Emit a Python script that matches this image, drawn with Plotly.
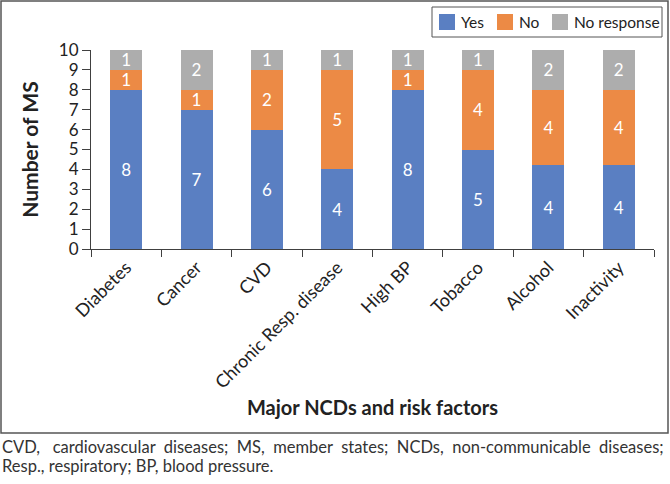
import plotly.graph_objects as go

categories = ["Diabetes", "Cancer", "CVD", "Chronic Resp. disease", "High BP", "Tobacco", "Alcohol", "Inactivity"]
yes_vals = [8, 7, 6, 4, 8, 5, 4.2, 4.2]
no_vals = [1, 1, 3, 5, 1, 4, 3.8, 3.8]
nr_vals = [1, 2, 1, 1, 1, 1, 2, 2]
yes_labels = [8, 7, 6, 4, 8, 5, 4, 4]
no_labels = [1, 1, 2, 5, 1, 4, 4, 4]
nr_labels = [1, 2, 1, 1, 1, 1, 2, 2]
y_ticks = list(range(0, 11))

FONT = "Lato, Carlito, Calibri, 'Open Sans', sans-serif"
W, H = 670, 484
L, R, T, B = 91, 16, 50, 235
pw, ph = W - L - R, H - T - B

def px_x(p):
    return (p - L) / pw

def px_y(p):
    return (H - B - p) / ph

fig = go.Figure()
series = [("Yes", yes_vals, yes_labels, "#5A7FC2"),
          ("No", no_vals, no_labels, "#EC8A45"),
          ("No response", nr_vals, nr_labels, "#ADADAD")]
for name, vals, labs, col in series:
    fig.add_trace(go.Bar(
        name=name, x=categories, y=vals, text=[str(v) for v in labs],
        textposition="inside", insidetextanchor="middle",
        textfont=dict(color="white", size=17, family=FONT),
        marker=dict(color=col, line=dict(width=0)),
        textangle=0, showlegend=False,
    ))

fig.update_layout(
    barmode="stack", bargap=0.545,
    width=W, height=H,
    margin=dict(l=L, r=R, t=T, b=B),
    paper_bgcolor="white", plot_bgcolor="white",
    font=dict(family=FONT, color="#222222", size=16),
    uniformtext=dict(minsize=17, mode="show"),
    xaxis=dict(showline=True, linecolor="#404040", linewidth=1, ticks="outside",
               tickson="boundaries", ticklen=7, tickcolor="#404040", tickangle=-45,
               tickfont=dict(size=18, family=FONT),
               title=dict(text="<b>Major NCDs and risk factors</b>", font=dict(size=20, family=FONT), standoff=9)),
    yaxis=dict(range=[0, 10], tickvals=y_ticks, showline=True, linecolor="#404040", linewidth=1,
               ticks="outside", ticklen=8, tickcolor="#404040", showgrid=False, zeroline=False,
               tickfont=dict(size=17, family=FONT),
               title=dict(text="<b>Number of MS</b>", font=dict(size=21, family=FONT), standoff=14)),
)

# outer frame
fig.add_shape(type="rect", xref="paper", yref="paper",
              x0=px_x(1), x1=px_x(668), y0=px_y(433), y1=px_y(1),
              line=dict(color="#555555", width=1.5), fillcolor="rgba(0,0,0,0)", layer="below")

# legend box (drawn to match the reference's compact legend)
fig.add_shape(type="rect", xref="paper", yref="paper",
              x0=px_x(432), x1=px_x(662), y0=px_y(37), y1=px_y(7),
              line=dict(color="#555555", width=1), fillcolor="white", layer="below")
swatch_left = [439, 497, 552]
for (name, _, _, col), sx in zip(series, swatch_left):
    fig.add_shape(type="rect", xref="paper", yref="paper",
                  x0=px_x(sx), x1=px_x(sx + 16), y0=px_y(30), y1=px_y(14),
                  line=dict(width=0), fillcolor=col)
    fig.add_annotation(xref="paper", yref="paper", x=px_x(sx + 20), y=px_y(22),
                       xanchor="left", yanchor="middle", text=name, showarrow=False,
                       font=dict(size=15.5, family=FONT, color="#222222"))

s2 = " \u00a0"
s3 = " \u00a0\u00a0"
words = ["CVD,", "cardiovascular", "diseases;", "MS,", "member", "states;", "NCDs,",
         "non-communicable", "diseases;"]
gaps = [s3, s2, s2, s2, s2, s2, s2, s2]
line1 = words[0] + "".join(g + w for g, w in zip(gaps, words[1:]))
fig.add_annotation(xref="paper", yref="paper", x=px_x(0), y=px_y(447), xanchor="left", yanchor="middle",
                   text=line1, showarrow=False, font=dict(size=16.5, family=FONT, color="#333333"))
fig.add_annotation(xref="paper", yref="paper", x=px_x(0), y=px_y(466), xanchor="left", yanchor="middle",
                   text="Resp., respiratory; BP, blood pressure.",
                   showarrow=False, font=dict(size=16.5, family=FONT, color="#333333"))

fig.write_html("out.html")
